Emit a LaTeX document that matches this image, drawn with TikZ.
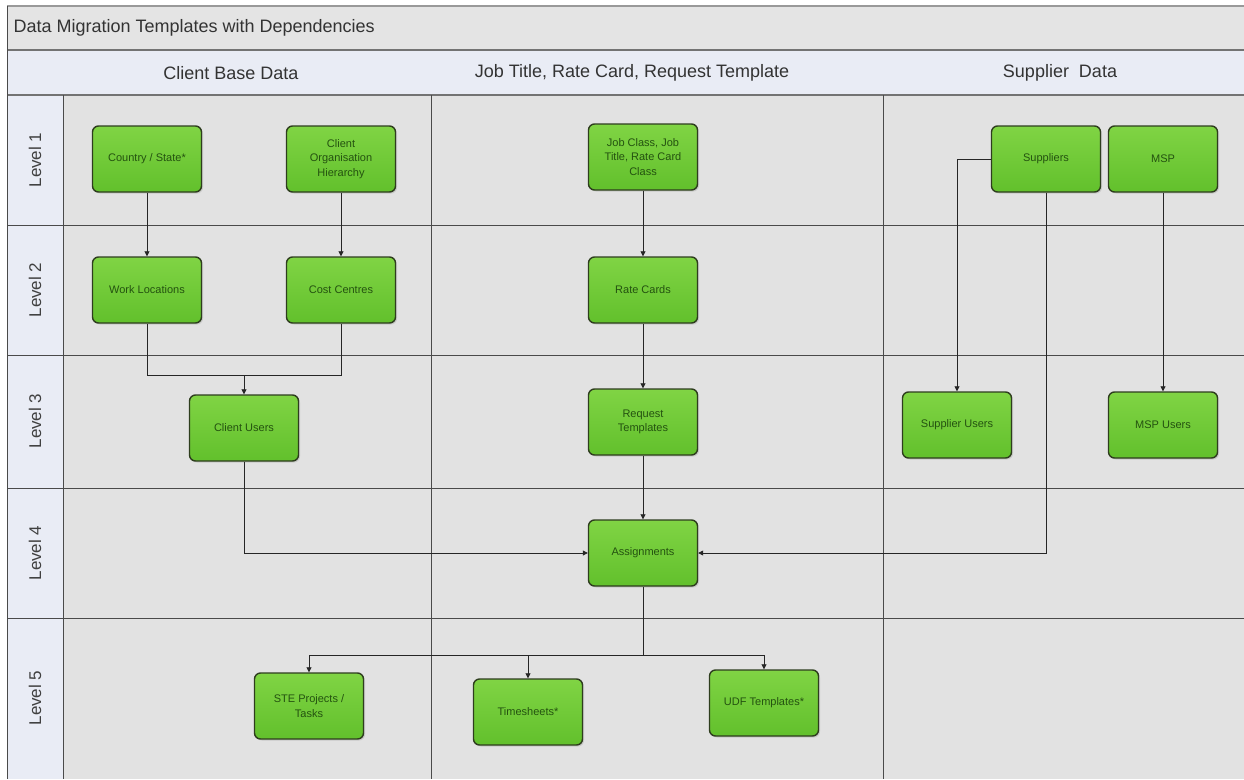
\documentclass[tikz,border=0pt]{standalone}
\usepackage{fontspec}
\setmainfont{Liberation Sans}
\usetikzlibrary{shadows,arrows.meta}
\definecolor{panel}{HTML}{E2E2E2}
\definecolor{hdr}{HTML}{E9ECF5}
\definecolor{titlebg}{HTML}{E4E4E4}
\definecolor{gridc}{HTML}{4A4A4A}
\definecolor{boxtop}{HTML}{80D444}
\definecolor{boxbot}{HTML}{62C02C}
\definecolor{boxline}{HTML}{2E3D1E}
\definecolor{boxtext}{HTML}{245210}
\tikzset{
  task/.style={draw=boxline, line width=1.4pt, rounded corners=6pt,
    top color=boxtop, bottom color=boxbot, minimum width=109pt, minimum height=66pt,
    align=center, font=\fontsize{11}{14.5}\selectfont, text=boxtext,
    drop shadow={shadow xshift=1.5pt, shadow yshift=-1.5pt, opacity=0.25}},
  conn/.style={draw=black!85, line width=0.8pt},
  arr/.style={conn, -{Triangle[length=5pt,width=5pt]}},
  gridline/.style={draw=gridc, line width=0.8pt},
  lvl/.style={rotate=90, font=\fontsize{17}{20}\selectfont, text=black!75},
  colhead/.style={font=\fontsize{18}{21}\selectfont, text=black!80}
}
\begin{document}
\begin{tikzpicture}[x=1pt,y=-1pt]
\useasboundingbox (0,0) rectangle (1244,779);
% backgrounds
\fill[white] (0,0) rectangle (1244,779);
\fill[titlebg] (7,6) rectangle (1244,50);
\fill[hdr] (7,50) rectangle (1244,95);
\fill[hdr] (7,95) rectangle (63,779);
\fill[panel] (63,95) rectangle (1244,779);
% grid lines
\draw[draw=gray!80, line width=1.5pt] (7,6) -- (1244,6);
\draw[draw=gray!90!black, line width=1.5pt] (7,50) -- (1244,50);
\draw[draw=gray!90!black, line width=1.5pt] (7,95) -- (1244,95);
\draw[gridline] (7,6) -- (7,779);
\draw[gridline] (63,95) -- (63,779);
\draw[gridline] (431,95) -- (431,779);
\draw[gridline] (883,95) -- (883,779);
\foreach \yy in {225,355,488,618} \draw[gridline] (7,\yy) -- (1244,\yy);
% titles
\node[anchor=west, font=\fontsize{18}{21}\selectfont, text=black!80] (title) at (10,28) {Data Migration Templates with Dependencies};
\node[colhead] (h1) at (231,73) {Client Base Data};
\node[colhead] (h2) at (632,73) {Job Title, Rate Card, Request Template};
\node[colhead] (h3) at (1060,73) {Supplier\ \ Data};
\node[lvl] (l1) at (35,160) {Level 1};
\node[lvl] (l2) at (35,290) {Level 2};
\node[lvl] (l3) at (35,421) {Level 3};
\node[lvl] (l4) at (35,553) {Level 4};
\node[lvl] (l5) at (35,698) {Level 5};
% nodes
\node[task] (country) at (147,159) {Country / State*};
\node[task] (org) at (341,159) {Client\\Organisation\\Hierarchy};
\node[task] (job) at (643,157) {Job Class, Job\\Title, Rate Card\\Class};
\node[task] (sup) at (1046,159) {Suppliers};
\node[task] (msp) at (1163,159) {MSP};
\node[task] (work) at (147,290) {Work Locations};
\node[task] (cost) at (341,290) {Cost Centres};
\node[task] (rate) at (643,290) {Rate Cards};
\node[task] (cusers) at (244,428) {Client Users};
\node[task] (req) at (643,422) {Request\\Templates};
\node[task] (susers) at (957,425) {Supplier Users};
\node[task] (musers) at (1163,425) {MSP Users};
\node[task] (asg) at (643,553) {Assignments};
\node[task] (ste) at (309,706) {STE Projects /\\Tasks};
\node[task] (ts) at (528,712) {Timesheets*};
\node[task] (udf) at (764,703) {UDF Templates*};
% junction coordinates
\coordinate (j1) at (244,375);
\coordinate (j2) at (643,655);
% connectors
\draw[arr] (country) -- (work);
\draw[arr] (org) -- (cost);
\draw[conn] (work.south) |- (j1);
\draw[conn] (cost.south) |- (j1);
\draw[arr] (j1) -- (cusers.north);
\draw[arr] (job) -- (rate);
\draw[arr] (rate) -- (req);
\draw[arr] (req) -- (asg);
\draw[arr] (cusers.south) |- (asg.west);
\draw[arr] (sup.west) -| (susers.north);
\draw[arr] (sup.south) |- (asg.east);
\draw[arr] (msp) -- (musers);
\draw[conn] (asg.south) -- (j2);
\draw[arr] (j2) -| (ste.north);
\draw[arr] (j2) -| (ts.north);
\draw[arr] (j2) -| (udf.north);
\end{tikzpicture}
\end{document}
